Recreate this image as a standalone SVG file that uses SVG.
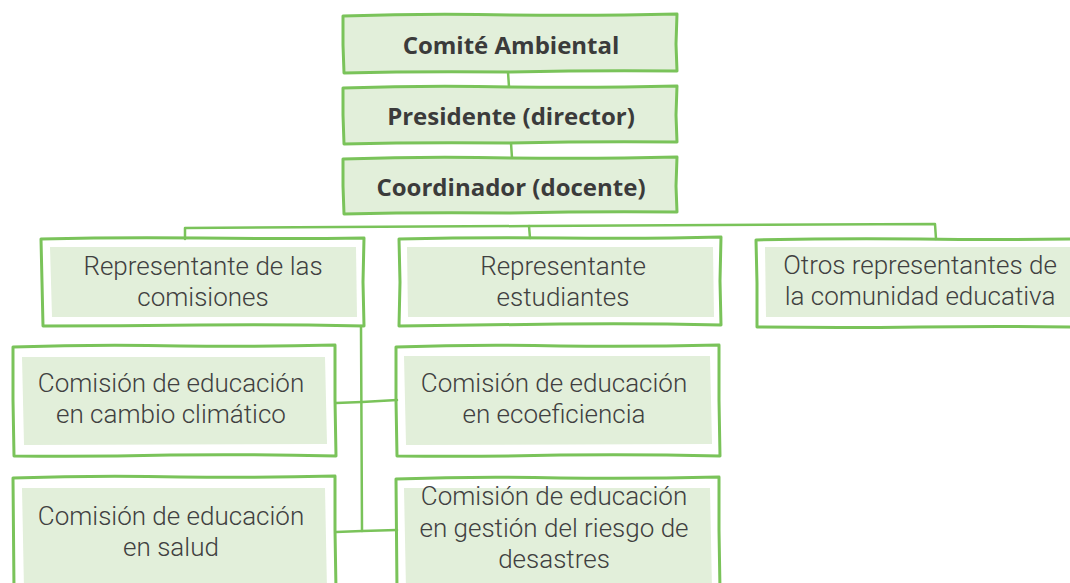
<svg xmlns="http://www.w3.org/2000/svg" width="1070" height="583" viewBox="0 0 1070 583">
<style>
.b{fill:none;stroke:#7ac35a;stroke-width:3;stroke-linejoin:round;stroke-linecap:round}
.bf{fill:#e2efda;stroke:#7ac35a;stroke-width:3;stroke-linejoin:round;stroke-linecap:round}
.f{fill:#e2efda}
.c{fill:none;stroke:#7ac35a;stroke-width:2.5;stroke-linecap:round;stroke-linejoin:round}
.h{font-family:"Open Sans","Liberation Sans",sans-serif;font-weight:bold;font-size:24px;fill:#3b3b3b;text-anchor:middle}
.t{font-family:Roboto,"Open Sans","Liberation Sans",sans-serif;font-weight:300;font-size:26px;fill:#404040;text-anchor:middle}
</style>
<rect width="1070" height="583" fill="#ffffff"/>
<g id="connectors">
<path class="c" d="M508,72 L509,87"/>
<path class="c" d="M511,143 L512,158"/>
<path class="c" d="M185,239 L185,228 L530,226 L935,224 L936,239"/>
<path class="c" d="M529,226 L530,238"/>
<path class="c" d="M361,326 L362,531"/>
<path class="c" d="M336,403 L362,402 L397,400"/>
<path class="c" d="M336,532 L362,531 L397,530"/>
</g>
<g id="comite">
<path class="bf" d="M343,16 Q430,13 510,15 Q600,16 677,14 L676,44 L677,71 Q600,70 510,72 Q420,71 344,73 L343,45 Z"/>
<text class="h" x="511" y="54">Comité Ambiental</text>
</g>
<g id="presidente">
<path class="bf" d="M343,88 Q430,85 510,87 Q600,88 677,86 L676,115 L677,142 Q600,141 510,143 Q420,142 344,144 L343,115 Z"/>
<text class="h" x="511" y="125">Presidente (director)</text>
</g>
<g id="coordinador">
<path class="bf" d="M343,159 Q430,156 510,158 Q600,159 677,157 L676,186 L677,212 Q600,211 510,213 Q420,212 344,214 L343,186 Z"/>
<text class="h" x="511" y="196">Coordinador (docente)</text>
</g>
<g id="rep-comisiones">
<path class="b" d="M41,239 Q120,237 200,238 Q290,239 364,238 L363,282 L364,326 Q280,324 200,325 Q120,326 43,326 L42,282 Z"/>
<path class="f" d="M50,247 L356,247 L357,317 L52,317 Z"/>
<text class="t" x="203" y="275">Representante de las</text>
<text class="t" x="203" y="306">comisiones</text>
</g>
<g id="rep-estudiantes">
<path class="b" d="M399,239 Q480,237 560,238 Q650,239 721,237 L720,281 L721,325 Q640,323 560,324 Q480,325 399,326 L400,282 Z"/>
<path class="f" d="M407,247 L713,247 L714,317 L408,317 Z"/>
<text class="t" x="563" y="275">Representante</text>
<text class="t" x="563" y="306">estudiantes</text>
</g>
<g id="otros">
<path class="b" d="M756,240 Q840,238 920,239 Q1000,240 1072,239 L1072,327 Q1000,326 920,327 Q840,328 757,327 L757,283 Z"/>
<path class="f" d="M765,247 L1070,247 L1070,317 L766,317 Z"/>
<text class="t" x="920" y="274">Otros representantes de</text>
<text class="t" x="920" y="305">la comunidad educativa</text>
</g>
<g id="cambio">
<path class="b" d="M13,347 Q100,344 180,346 Q260,347 335,345 L335,400 L336,456 Q250,454 170,455 Q90,457 14,456 L13,400 Z"/>
<path class="f" d="M22,357 L325,357 L327,444 L24,445 Z"/>
<text class="t" x="171" y="392">Comisión de educación</text>
<text class="t" x="171" y="423">en cambio climático</text>
</g>
<g id="ecoeficiencia">
<path class="b" d="M396,347 Q480,344 560,346 Q640,347 719,345 L719,400 L720,456 Q640,454 560,455 Q480,457 397,456 L396,400 Z"/>
<path class="f" d="M404,356 L710,356 L712,444 L406,445 Z"/>
<text class="t" x="554" y="392">Comisión de educación</text>
<text class="t" x="554" y="423">en ecoeficiencia</text>
</g>
<g id="salud">
<path class="b" d="M13,478 Q100,475 180,477 Q260,478 335,476 L335,530 L336,590 M13,478 L14,590"/>
<path class="f" d="M22,488 L325,488 L327,590 L24,590 Z"/>
<text class="t" x="171" y="525">Comisión de educación</text>
<text class="t" x="171" y="556">en salud</text>
</g>
<g id="gestion">
<path class="b" d="M396,479 Q480,476 560,478 Q640,479 719,477 L719,530 L720,590 M396,479 L397,590"/>
<path class="f" d="M404,488 L710,488 L712,590 L406,590 Z"/>
<text class="t" x="554" y="505">Comisión de educación</text>
<text class="t" x="554" y="537">en gestión del riesgo de</text>
<text class="t" x="554" y="568">desastres</text>
</g>
</svg>
